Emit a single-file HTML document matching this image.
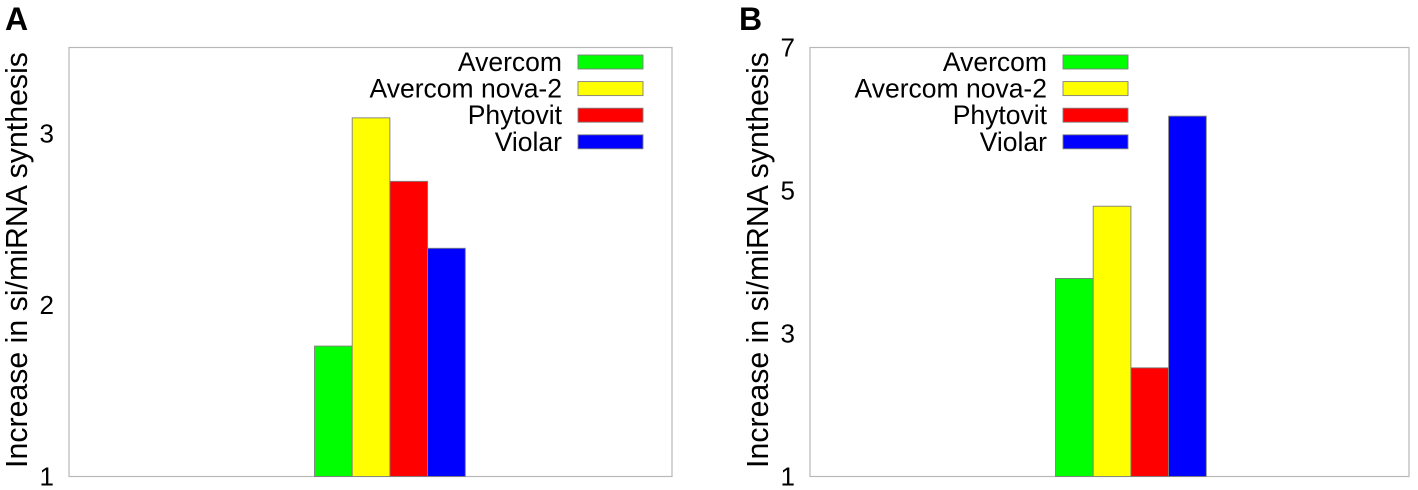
<!DOCTYPE html>
<html>
<head>
<meta charset="utf-8">
<style>
html,body{margin:0;padding:0;background:#fff;width:1418px;height:490px;overflow:hidden}
svg{display:block}
text{font-family:"Liberation Sans",sans-serif;fill:#000}
</style>
</head>
<body>
<svg id="chart" width="1418" height="490" viewBox="0 0 1418 490" xmlns="http://www.w3.org/2000/svg"></svg>
<script>
const seriesNames = ['Avercom', 'Avercom nova-2', 'Phytovit', 'Violar'];
const seriesColors = ['#00ff00', '#ffff00', '#ff0000', '#0000ff'];
const panelAValues = [1.76, 3.09, 2.72, 2.33];
const panelBValues = [3.77, 4.78, 2.52, 6.04];
const panelATicks = [1, 2, 3];
const panelBTicks = [1, 3, 5, 7];
const yAxisTitle = 'Increase in si/miRNA synthesis';

const svg = document.getElementById('chart');
const NS = 'http://www.w3.org/2000/svg';

function make(tag, attrs, parent) {
  const el = document.createElementNS(NS, tag);
  for (const k in attrs) el.setAttribute(k, attrs[k]);
  parent.appendChild(el);
  return el;
}

function drawPanel(cfg, values, ticks) {
  const g = make('g', {}, svg);
  
  

  const y = v => cfg.bottom - (v - cfg.yMin) / (cfg.yMax - cfg.yMin) * (cfg.bottom - cfg.top);

  const frame = make('rect', {x: cfg.left, y: cfg.top, width: cfg.right - cfg.left, height: cfg.bottom - cfg.top, fill: '#fff', stroke: '#b8b8b8', 'stroke-width': 1.2}, g);
  
  

  const label = make('text', {x: cfg.labelX, y: 30, 'font-size': 32, 'font-weight': 'bold'}, g);
  label.textContent = cfg.id;
  
  

  const title = make('text', {transform: 'translate(' + cfg.titleX + ',260) rotate(-90)', 'text-anchor': 'middle', 'font-size': 30.3}, g);
  title.textContent = yAxisTitle;
  
  

  ticks.forEach(t => {
    const tick = make('text', {x: cfg.left - 15, y: y(t) + 9, 'text-anchor': 'end', 'font-size': 26}, g);
    tick.textContent = t;
    
    
  });

  values.forEach((v, i) => {
    const bar = make('rect', {
      x: cfg.barStart + i * cfg.barWidth,
      y: y(v),
      width: cfg.barWidth,
      height: cfg.bottom - y(v),
      fill: seriesColors[i],
      stroke: '#7f7f7f',
      'stroke-width': 0.9
    }, g);
    
    
  });

  seriesNames.forEach((name, i) => {
    const rowY = 62 + i * 26.6;
    const text = make('text', {x: cfg.legendX - 16, y: rowY + 9, 'text-anchor': 'end', 'font-size': 26.5}, g);
    text.textContent = name;
    
    
    const swatch = make('rect', {x: cfg.legendX, y: rowY - 7, width: 65, height: 14, fill: seriesColors[i], stroke: '#7f7f7f', 'stroke-width': 0.9}, g);
    
    
  });
}

drawPanel({
  id: 'A', left: 69, right: 672, top: 47.5, bottom: 476.5, yMin: 1, yMax: 3.5,
  labelX: 5, titleX: 27, barStart: 314.5, barWidth: 37.7, legendX: 578
}, panelAValues, panelATicks);

drawPanel({
  id: 'B', left: 810, right: 1409, top: 47.5, bottom: 476.5, yMin: 1, yMax: 7,
  labelX: 739, titleX: 768, barStart: 1055.5, barWidth: 37.7, legendX: 1063
}, panelBValues, panelBTicks);
</script>
</body>
</html>
